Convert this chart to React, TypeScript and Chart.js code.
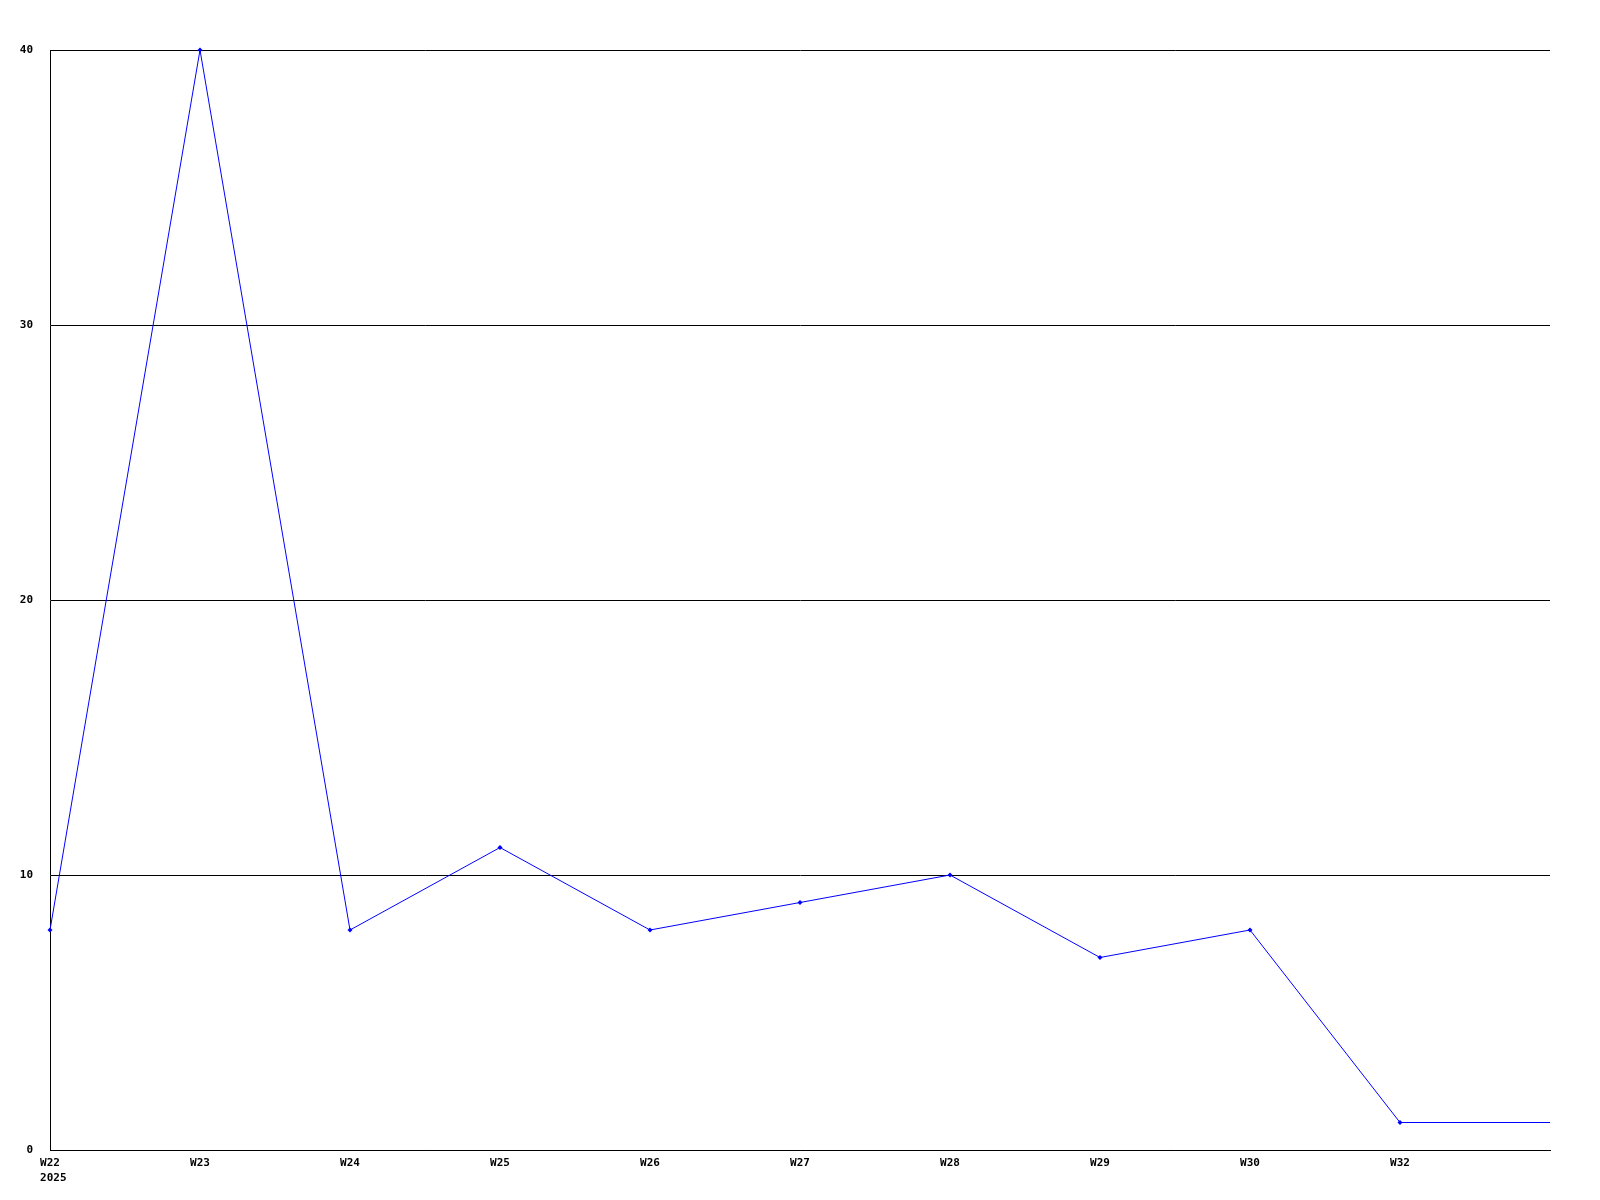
import React, { useEffect, useRef } from "react";
import { Chart, registerables } from "chart.js";

Chart.register(...registerables);

const weekLabels: (string | string[])[] = [["W22", "2025"], "W23", "W24", "W25", "W26", "W27", "W28", "W29", "W30", "W32", ""];
const counts: number[] = [8, 40, 8, 11, 8, 9, 10, 7, 8, 1, 1];
const yTicks: number[] = [0, 10, 20, 30, 40];

const FONT_FAMILY = "'DejaVu Sans Mono', monospace";

const xLabelPlugin = {
  id: "xLabelPlugin",
  afterDraw(chart: any) {
    const scale = chart.scales.x;
    const ctx = chart.ctx;
    ctx.save();
    ctx.font = `bold 11px ${FONT_FAMILY}`;
    ctx.fillStyle = "#000";
    ctx.textBaseline = "top";
    const top = scale.top + 8;
    const lineH = 15;
    weekLabels.forEach((lab, i) => {
      const lines = Array.isArray(lab) ? lab : [lab];
      if (!lines[0] && lines.length === 1) return;
      const x = scale.getPixelForValue(i);
      const w0 = ctx.measureText(lines[0]).width;
      const left = x - w0 / 2;
      ctx.textAlign = "left";
      lines.forEach((ln, j) => {
        ctx.fillText(ln, left, top + j * lineH);
      });
    });
    ctx.restore();
  },
};

export default function App() {
  const ref = useRef<HTMLCanvasElement | null>(null);
  useEffect(() => {
    document.body.style.margin = "0";
    const ctx = ref.current!;
    const font = { family: FONT_FAMILY, size: 11, weight: "bold" as const, lineHeight: 1.35 };
    const chart = new Chart(ctx, {
      type: "line",
      data: {
        labels: weekLabels,
        datasets: [
          {
            data: counts,
            borderColor: "#0000ff",
            backgroundColor: "#0000ff",
            borderWidth: 1,
            pointRadius: counts.map((_, i) => (i === counts.length - 1 ? 0 : 2.5)),
            pointBorderWidth: 0,
            pointStyle: "rectRot",
            tension: 0,
            fill: false,
            clip: false as any,
          },
        ],
      },
      options: {
        animation: false,
        responsive: false,
        maintainAspectRatio: false,
        layout: { padding: { top: 50, right: 50, left: 0, bottom: 0 } },
        plugins: { legend: { display: false }, tooltip: { enabled: false } },
        scales: {
          x: {
            type: "category",
            offset: false,
            grid: { display: false, drawTicks: false },
            border: { display: true, color: "#000", width: 1 },
            ticks: { display: false, autoSkip: false },
            afterFit: (s: any) => { s.height = 50; },
          },
          y: {
            min: 0,
            max: 40,
            afterBuildTicks: (s: any) => { s.ticks = yTicks.map((v) => ({ value: v })); },
            grid: { color: "#000", lineWidth: 1, drawTicks: false },
            border: { display: true, color: "#000", width: 1 },
            ticks: { color: "#000", font, padding: 17 },
            afterFit: (s: any) => { s.width = 50; },
          },
        },
      },
      plugins: [xLabelPlugin],
    });
    return () => chart.destroy();
  }, []);
  return (
    <div style={{ position: "absolute", left: 0, top: 0, width: 1600, height: 1200, background: "#fff" }}>
      <canvas ref={ref} width={1600} height={1200} style={{ width: 1600, height: 1200 }} />
    </div>
  );
}
